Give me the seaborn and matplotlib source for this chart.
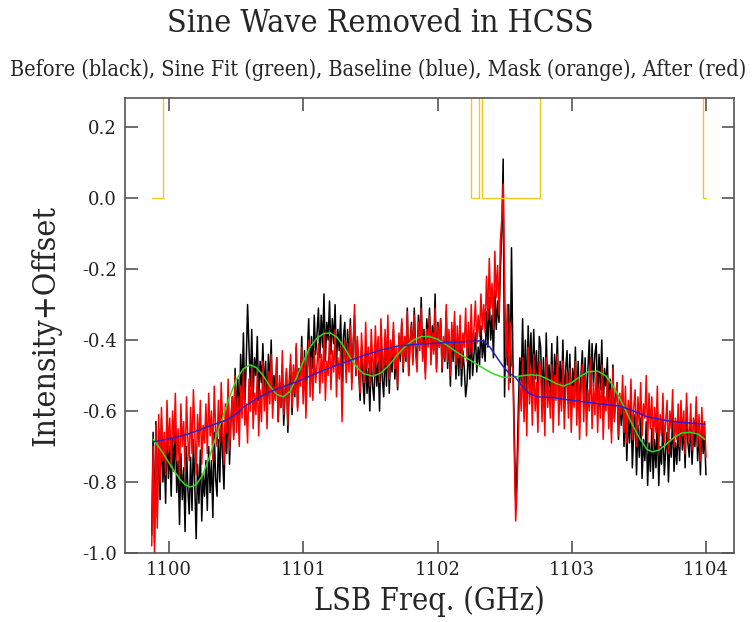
import numpy as np
import pandas as pd
import seaborn as sns
import matplotlib.pyplot as plt

# spectrum channels (GHz), 400 channels from 1099.87 to 1104.0
f_start, f_stop = 1099.87, 1104.0

# "Before" spectrum (black)
before = [
    -0.95, -0.66, -0.97, -0.63, -0.90, -0.65, -0.85, -0.62, -0.80, -0.72, -0.86, -0.64, -0.79, -0.70, -0.84, -0.68, -0.77, -0.63, -0.83, -0.74,
    -0.92, -0.72, -0.85, -0.76, -0.94, -0.70, -0.82, -0.89, -0.73, -0.88, -0.68, -0.81, -0.96, -0.75, -0.86, -0.71, -0.91, -0.78, -0.84, -0.74,
    -0.88, -0.70, -0.83, -0.74, -0.90, -0.66, -0.79, -0.84, -0.68, -0.80, -0.61, -0.73, -0.82, -0.64, -0.72, -0.55, -0.75, -0.63, -0.56, -0.67,
    -0.48, -0.62, -0.51, -0.64, -0.44, -0.55, -0.38, -0.58, -0.47, -0.30, -0.42, -0.53, -0.37, -0.56, -0.45, -0.50, -0.39, -0.57, -0.46, -0.52,
    -0.41, -0.55, -0.46, -0.60, -0.44, -0.53, -0.40, -0.58, -0.50, -0.56, -0.45, -0.63, -0.52, -0.59, -0.47, -0.64, -0.55, -0.49, -0.66, -0.53,
    -0.47, -0.61, -0.49, -0.56, -0.42, -0.59, -0.48, -0.51, -0.39, -0.55, -0.43, -0.57, -0.44, -0.34, -0.50, -0.39, -0.48, -0.33, -0.44, -0.38,
    -0.31, -0.45, -0.33, -0.42, -0.27, -0.46, -0.35, -0.40, -0.29, -0.44, -0.34, -0.41, -0.30, -0.47, -0.37, -0.43, -0.33, -0.52, -0.39, -0.35,
    -0.49, -0.37, -0.46, -0.34, -0.52, -0.41, -0.33, -0.50, -0.40, -0.49, -0.57, -0.42, -0.51, -0.58, -0.43, -0.55, -0.48, -0.60, -0.45, -0.53,
    -0.57, -0.43, -0.53, -0.46, -0.60, -0.41, -0.51, -0.56, -0.42, -0.53, -0.38, -0.55, -0.44, -0.49, -0.37, -0.51, -0.44, -0.54, -0.39, -0.46,
    -0.35, -0.49, -0.39, -0.46, -0.31, -0.50, -0.40, -0.35, -0.46, -0.31, -0.42, -0.47, -0.33, -0.41, -0.28, -0.44, -0.37, -0.49, -0.34, -0.40,
    -0.31, -0.45, -0.36, -0.43, -0.27, -0.48, -0.35, -0.42, -0.34, -0.49, -0.40, -0.46, -0.32, -0.48, -0.39, -0.53, -0.37, -0.46, -0.35, -0.51,
    -0.40, -0.50, -0.38, -0.53, -0.43, -0.48, -0.56, -0.52, -0.41, -0.51, -0.37, -0.50, -0.44, -0.38, -0.49, -0.42, -0.47, -0.36, -0.45, -0.40,
    -0.46, -0.32, -0.42, -0.28, -0.40, -0.33, -0.45, -0.26, -0.37, -0.29, -0.35, -0.20, -0.10, 0.11, -0.56, -0.35, -0.47, -0.30, -0.52, -0.14,
    -0.45, -0.66, -0.85, -0.75, -0.58, -0.45, -0.52, -0.34, -0.55, -0.40, -0.57, -0.36, -0.50, -0.38, -0.54, -0.37, -0.51, -0.43, -0.56, -0.39,
    -0.42, -0.57, -0.45, -0.61, -0.38, -0.54, -0.47, -0.56, -0.41, -0.60, -0.44, -0.52, -0.39, -0.58, -0.46, -0.55, -0.40, -0.59, -0.48, -0.43,
    -0.58, -0.44, -0.61, -0.48, -0.54, -0.42, -0.59, -0.46, -0.62, -0.50, -0.43, -0.57, -0.45, -0.60, -0.48, -0.40, -0.55, -0.41, -0.53, -0.44,
    -0.41, -0.57, -0.44, -0.54, -0.40, -0.60, -0.48, -0.53, -0.45, -0.61, -0.51, -0.66, -0.47, -0.62, -0.56, -0.52, -0.68, -0.57, -0.64, -0.55,
    -0.70, -0.58, -0.74, -0.62, -0.69, -0.57, -0.76, -0.66, -0.61, -0.78, -0.64, -0.73, -0.62, -0.79, -0.68, -0.74, -0.63, -0.81, -0.69, -0.77,
    -0.65, -0.79, -0.68, -0.76, -0.62, -0.81, -0.70, -0.75, -0.63, -0.78, -0.71, -0.66, -0.80, -0.68, -0.73, -0.61, -0.77, -0.69, -0.75, -0.64,
    -0.74, -0.60, -0.71, -0.64, -0.76, -0.59, -0.69, -0.73, -0.62, -0.75, -0.66, -0.70, -0.60, -0.74, -0.65, -0.78, -0.63, -0.72, -0.67, -0.78,
]

# "After" spectrum (red)
after = [
    -0.98, -0.70, -1.00, -0.64, -0.93, -0.61, -0.80, -0.59, -0.74, -0.66, -0.78, -0.57, -0.71, -0.62, -0.76, -0.60, -0.69, -0.55, -0.74, -0.65,
    -0.79, -0.58, -0.70, -0.63, -0.77, -0.56, -0.68, -0.74, -0.59, -0.72, -0.54, -0.66, -0.78, -0.61, -0.70, -0.57, -0.75, -0.64, -0.69, -0.58,
    -0.72, -0.55, -0.67, -0.60, -0.74, -0.53, -0.65, -0.70, -0.57, -0.69, -0.52, -0.63, -0.75, -0.58, -0.66, -0.51, -0.71, -0.62, -0.56, -0.68,
    -0.50, -0.66, -0.56, -0.70, -0.53, -0.62, -0.48, -0.64, -0.58, -0.69, -0.51, -0.60, -0.47, -0.65, -0.55, -0.61, -0.49, -0.67, -0.54, -0.63,
    -0.46, -0.60, -0.52, -0.65, -0.49, -0.58, -0.44, -0.62, -0.53, -0.57, -0.45, -0.63, -0.50, -0.59, -0.43, -0.61, -0.54, -0.48, -0.64, -0.51,
    -0.44, -0.59, -0.47, -0.55, -0.41, -0.60, -0.50, -0.53, -0.42, -0.58, -0.46, -0.62, -0.49, -0.40, -0.56, -0.45, -0.57, -0.43, -0.52, -0.47,
    -0.41, -0.55, -0.44, -0.52, -0.38, -0.57, -0.46, -0.50, -0.39, -0.54, -0.43, -0.49, -0.37, -0.56, -0.45, -0.51, -0.42, -0.63, -0.47, -0.40,
    -0.52, -0.41, -0.49, -0.36, -0.54, -0.43, -0.30, -0.50, -0.39, -0.47, -0.55, -0.38, -0.46, -0.52, -0.35, -0.48, -0.42, -0.53, -0.37, -0.45,
    -0.50, -0.36, -0.46, -0.39, -0.52, -0.34, -0.44, -0.49, -0.37, -0.47, -0.33, -0.51, -0.40, -0.45, -0.35, -0.48, -0.42, -0.53, -0.38, -0.44,
    -0.34, -0.48, -0.39, -0.45, -0.32, -0.50, -0.41, -0.36, -0.47, -0.33, -0.44, -0.49, -0.35, -0.43, -0.31, -0.46, -0.40, -0.51, -0.37, -0.42,
    -0.33, -0.47, -0.38, -0.44, -0.31, -0.49, -0.36, -0.42, -0.34, -0.48, -0.39, -0.45, -0.30, -0.46, -0.37, -0.50, -0.35, -0.43, -0.32, -0.47,
    -0.36, -0.45, -0.33, -0.48, -0.38, -0.42, -0.31, -0.46, -0.35, -0.44, -0.30, -0.43, -0.37, -0.29, -0.41, -0.33, -0.39, -0.27, -0.37, -0.30,
    -0.38, -0.22, -0.34, -0.17, -0.31, -0.24, -0.37, -0.15, -0.28, -0.19, -0.33, -0.12, -0.06, 0.04, -0.22, -0.45, -0.30, -0.54, -0.35, -0.47,
    -0.48, -0.72, -0.91, -0.82, -0.66, -0.52, -0.60, -0.45, -0.63, -0.50, -0.67, -0.42, -0.58, -0.48, -0.64, -0.44, -0.60, -0.52, -0.66, -0.46,
    -0.48, -0.63, -0.51, -0.67, -0.45, -0.59, -0.53, -0.62, -0.47, -0.66, -0.50, -0.57, -0.44, -0.64, -0.52, -0.60, -0.46, -0.65, -0.54, -0.49,
    -0.62, -0.48, -0.66, -0.53, -0.59, -0.46, -0.64, -0.51, -0.68, -0.55, -0.47, -0.63, -0.50, -0.67, -0.54, -0.60, -0.45, -0.65, -0.52, -0.61,
    -0.49, -0.66, -0.53, -0.62, -0.47, -0.68, -0.56, -0.60, -0.50, -0.65, -0.54, -0.69, -0.48, -0.63, -0.57, -0.52, -0.67, -0.55, -0.61, -0.50,
    -0.66, -0.53, -0.69, -0.57, -0.63, -0.51, -0.68, -0.59, -0.54, -0.70, -0.56, -0.64, -0.52, -0.67, -0.58, -0.62, -0.50, -0.69, -0.55, -0.65,
    -0.56, -0.70, -0.59, -0.66, -0.53, -0.71, -0.61, -0.67, -0.55, -0.69, -0.63, -0.57, -0.72, -0.60, -0.65, -0.54, -0.70, -0.62, -0.68, -0.58,
    -0.70, -0.57, -0.67, -0.60, -0.72, -0.55, -0.65, -0.69, -0.58, -0.71, -0.62, -0.66, -0.56, -0.70, -0.61, -0.74, -0.59, -0.68, -0.63, -0.73,
]

# sine fit (green)
sine_freq = [1099.881, 1099.93, 1099.98, 1100.03, 1100.08, 1100.12, 1100.156, 1100.20, 1100.25, 1100.30,
             1100.35, 1100.40, 1100.45, 1100.50, 1100.55, 1100.60, 1100.65, 1100.70, 1100.75, 1100.80,
             1100.85, 1100.90, 1100.95, 1101.00, 1101.05, 1101.10, 1101.15, 1101.20, 1101.25, 1101.30,
             1101.35, 1101.40, 1101.45, 1101.52, 1101.58, 1101.64, 1101.70, 1101.76, 1101.82, 1101.88,
             1101.94, 1102.00, 1102.06, 1102.12, 1102.18, 1102.24, 1102.30, 1102.36, 1102.42, 1102.49,
             1102.56, 1102.64, 1102.70, 1102.76, 1102.82, 1102.88, 1102.94, 1103.00, 1103.06, 1103.12,
             1103.19, 1103.25, 1103.30, 1103.36, 1103.41, 1103.46, 1103.51, 1103.56, 1103.60, 1103.65,
             1103.70, 1103.76, 1103.82, 1103.88, 1103.94, 1103.993]
sine_val = [-0.680, -0.705, -0.735, -0.765, -0.792, -0.808, -0.814, -0.808, -0.780, -0.730,
            -0.670, -0.617, -0.560, -0.512, -0.482, -0.470, -0.478, -0.500, -0.530, -0.553,
            -0.560, -0.545, -0.505, -0.460, -0.420, -0.395, -0.382, -0.380, -0.392, -0.418,
            -0.450, -0.478, -0.495, -0.502, -0.492, -0.470, -0.442, -0.418, -0.400, -0.390,
            -0.390, -0.398, -0.412, -0.428, -0.443, -0.456, -0.470, -0.484, -0.496, -0.505,
            -0.505, -0.500, -0.498, -0.500, -0.510, -0.522, -0.530, -0.520, -0.503, -0.490,
            -0.487, -0.500, -0.525, -0.565, -0.605, -0.645, -0.680, -0.708, -0.715, -0.710,
            -0.695, -0.675, -0.662, -0.660, -0.665, -0.680]

# baseline (blue)
base_freq = [1099.881, 1100.03, 1100.15, 1100.28, 1100.43, 1100.50, 1100.55, 1100.65, 1100.75, 1100.86,
             1100.98, 1101.12, 1101.22, 1101.33, 1101.45, 1101.58, 1101.70, 1101.85, 1102.02, 1102.18,
             1102.34, 1102.39, 1102.44, 1102.49, 1102.53, 1102.58, 1102.63, 1102.68, 1102.74, 1102.86,
             1103.00, 1103.21, 1103.36, 1103.46, 1103.56, 1103.75, 1103.993]
base_val = [-0.687, -0.676, -0.664, -0.645, -0.625, -0.608, -0.590, -0.566, -0.546, -0.530,
            -0.513, -0.490, -0.475, -0.460, -0.443, -0.428, -0.417, -0.412, -0.408, -0.405,
            -0.402, -0.420, -0.448, -0.475, -0.492, -0.505, -0.530, -0.550, -0.560, -0.562,
            -0.570, -0.580, -0.586, -0.600, -0.616, -0.630, -0.637]

# mask (orange), 1 = masked
mask_freq = [1099.873, 1099.955, 1102.250, 1102.309, 1102.331, 1102.763, 1103.978, 1104.0]
mask_val = [0, 1, 0, 1, 0, 1, 0, 0]

freq = np.linspace(f_start, f_stop, len(before))
spec = pd.DataFrame({"freq": freq, "before": before, "after": after})

sns.set_style("ticks")
plt.rcParams["font.family"] = ["DejaVu Serif"]

fig = plt.figure(figsize=(7.54, 6.22), dpi=100)
ax = fig.add_axes([0.166, 0.111, 0.8075, 0.7314])

sns.lineplot(data=spec, x="freq", y="before", color="black", lw=1.1, sort=False, estimator=None, ax=ax)
sns.lineplot(data=spec, x="freq", y="after", color="#ff0000", lw=1.1, sort=False, estimator=None, ax=ax)
sns.lineplot(x=sine_freq, y=sine_val, color="#2edc1e", lw=1.1, sort=False, estimator=None, ax=ax)
sns.lineplot(x=base_freq, y=base_val, color="#2a1fc8", lw=1.1, sort=False, estimator=None, ax=ax)
sns.lineplot(x=mask_freq, y=mask_val, color="#f2c81e", lw=1.0, sort=False, estimator=None,
             drawstyle="steps-post", ax=ax)

ax.set_xlim(1099.672, 1104.209)
ax.set_ylim(-1.0, 0.282)
ax.set_xticks([1100, 1101, 1102, 1103, 1104])
ax.set_yticks([0.2, 0.0, -0.2, -0.4, -0.6, -0.8, -1.0])
ax.set_yticklabels(["0.2", "0.0", "-0.2", "-0.4", "-0.6", "-0.8", "-1.0"])
ax.tick_params(direction="in", length=9, width=1.2, color="#555555", top=True, right=True,
               labelsize=13, labelcolor="#222222", pad=6)
for s in ax.spines.values():
    s.set_color("#555555")
    s.set_linewidth(1.2)

ax.set_xlabel("LSB Freq. (GHz)", fontsize=22, fontstretch="condensed")
ax.set_ylabel("Intensity+Offset", fontsize=23, fontstretch="condensed")
ax.xaxis.set_label_coords(0.5, -0.072)
ax.yaxis.set_label_coords(-0.105, 0.5)

fig.text(0.505, 0.962, "Sine Wave Removed in HCSS", ha="center", va="center",
         fontsize=23, fontstretch="condensed")
fig.text(0.502, 0.888, "Before (black), Sine Fit (green), Baseline (blue), Mask (orange), After (red)",
         ha="center", va="center", fontsize=15.5, fontstretch="condensed")

fig.savefig("out.png", dpi=100)
